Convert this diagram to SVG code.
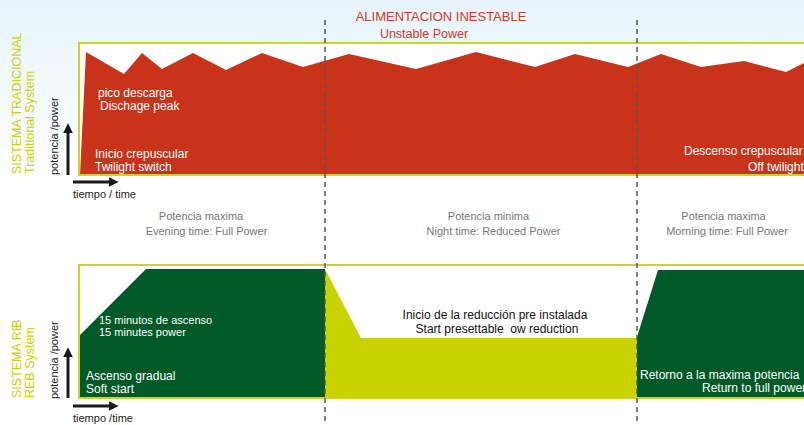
<svg xmlns="http://www.w3.org/2000/svg" width="804" height="425" viewBox="0 0 804 425">
<defs>
<linearGradient id="bg" x1="0" y1="0" x2="0" y2="1">
<stop offset="0" stop-color="#e6f4fb"/>
<stop offset="0.42" stop-color="#ffffff"/>
<stop offset="1" stop-color="#ffffff"/>
</linearGradient>
<marker id="ah" viewBox="0 0 10 10" refX="2" refY="5" markerWidth="3.2" markerHeight="3.2" orient="auto" markerUnits="strokeWidth">
<path d="M0,0 L10,5 L0,10 z" fill="#1a1a1a"/>
</marker>
<style>
text{font-family:"Liberation Sans",Arial,sans-serif}
.side{fill:#c9d300;font-size:12.5px}
.axis{fill:#222;font-size:11px}
.wt{fill:#ffffff;font-size:12px}
.wt11{fill:#ffffff;font-size:11px}
.gray{fill:#777;font-size:11px;text-anchor:middle}
.title{fill:#cc3b26;text-anchor:middle}
.frame{fill:#ffffff;stroke:#c9d42a;stroke-width:2}
.arrow{stroke:#1a1a1a;stroke-width:3;fill:none;marker-end:url(#ah)}
.dash{stroke:#555;stroke-width:1.5;stroke-dasharray:5 4;fill:none}
</style>
</defs>
<rect x="0" y="0" width="804" height="425" fill="url(#bg)"/>

<g id="title">
<text class="title" x="441" y="21" font-size="13">ALIMENTACION INESTABLE</text>
<text class="title" x="424" y="38" font-size="12.5">Unstable Power</text>
</g>

<g id="traditional">
<rect class="frame" x="79" y="43" width="740" height="132"/>
<polygon fill="#c9331a" points="80,175 86,52 124,74 142,53 162,69 193,53 226,70 262,53 303,67 349,54 416,69 476,52 535,67 575,54 628,67 661,54 701,67 744,61 786,72 804,63 804,174 80,174"/>
<text class="wt" x="98" y="97">pico descarga</text>
<text class="wt" x="100" y="110">Dischage peak</text>
<text class="wt" x="95" y="158">Inicio crepuscular</text>
<text class="wt" x="95" y="171">Twilight switch</text>
<text class="wt" x="684" y="155">Descenso crepuscular</text>
<text class="wt" x="748" y="171">Off twilight</text>
<text class="side" transform="translate(21,174) rotate(-90)">SISTEMA TRADICIONAL</text>
<text class="side" transform="translate(34,174) rotate(-90)">Traditional System</text>
</g>

<g id="axes-top">
<line class="arrow" x1="68" y1="175" x2="68" y2="131"/>
<line class="arrow" x1="73" y1="182" x2="111" y2="182"/>
<text class="axis" transform="translate(58,175) rotate(-90)">potencia /power</text>
<text class="axis" x="73" y="198" font-size="10.5">tiempo / time</text>
</g>

<g id="labels-mid">
<text class="gray" x="201" y="220">Potencia maxima</text>
<text class="gray" x="206.5" y="235">Evening time: Full Power</text>
<text class="gray" x="488.5" y="220">Potencia minima</text>
<text class="gray" x="493.5" y="235">Night time: Reduced Power</text>
<text class="gray" x="723.5" y="220">Potencia maxima</text>
<text class="gray" x="727" y="235">Morning time: Full Power</text>
</g>

<g id="reb">
<rect class="frame" x="79" y="265" width="740" height="133"/>
<polygon fill="#005a27" points="80,397 80,335 146,269 325,269 325,397"/>
<polygon fill="#c9d300" points="325,269 361,338 637,338 637,397 325,397"/>
<polygon fill="#005a27" points="637,397 637,337 658,270 804,270 804,397"/>
<text class="wt11" x="99" y="324">15 minutos de ascenso</text>
<text class="wt11" x="99" y="336">15 minutes power</text>
<text class="wt" x="86" y="380">Ascenso gradual</text>
<text class="wt" x="86" y="393">Soft start</text>
<text x="495" y="319" fill="#111" font-size="12" text-anchor="middle">Inicio de la reducción pre instalada</text>
<text x="497" y="333" fill="#111" font-size="12" text-anchor="middle" xml:space="preserve">Start presettable  ow reduction</text>
<text class="wt" x="640" y="379">Retorno a la maxima potencia</text>
<text class="wt" x="702" y="392">Return to full power</text>
<text class="side" transform="translate(21,398) rotate(-90)">SISTEMA RE<tspan dx="-5">B</tspan></text>
<text class="side" transform="translate(34,398) rotate(-90)">REB System</text>
</g>

<g id="axes-bottom">
<line class="arrow" x1="68" y1="398" x2="68" y2="355"/>
<line class="arrow" x1="73" y1="406" x2="111" y2="406"/>
<text class="axis" transform="translate(58,399) rotate(-90)">potencia /power</text>
<text class="axis" x="73" y="422" font-size="10.5">tiempo /time</text>
</g>

<g id="connectors">
<line class="dash" x1="325" y1="20" x2="325" y2="425"/>
<line class="dash" x1="637" y1="20" x2="637" y2="425"/>
</g>
</svg>
